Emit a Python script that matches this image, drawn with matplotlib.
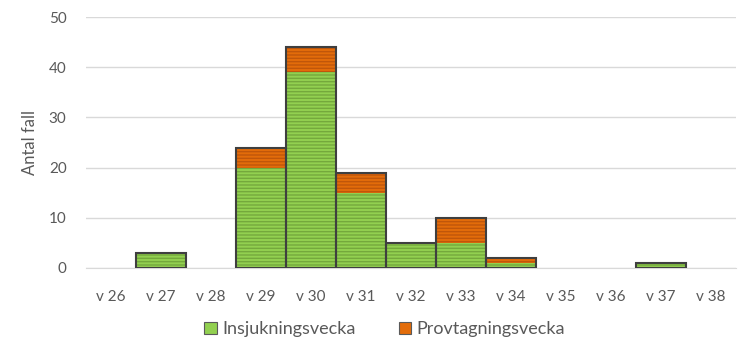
import numpy as np
import matplotlib.pyplot as plt
from matplotlib.patches import Patch

weeks = ['v 26', 'v 27', 'v 28', 'v 29', 'v 30', 'v 31', 'v 32',
         'v 33', 'v 34', 'v 35', 'v 36', 'v 37', 'v 38']
insjukning = [0, 3, 0, 20, 39, 15, 5, 5, 1, 0, 0, 1, 0]
provtagning = [0, 0, 0, 4, 5, 4, 0, 5, 1, 0, 0, 0, 0]

green = '#92D050'
green_h = '#74A83C'
orange = '#E36C0A'
orange_h = '#C0560A'
edge = '#3F3F3F'
txt = '#595959'

plt.rcParams['font.family'] = ['Lato', 'DejaVu Sans']
plt.rcParams['hatch.linewidth'] = 1.0

fig = plt.figure(figsize=(7.44, 3.59), dpi=100)
ax = fig.add_axes([0.1156, 0.2535, 0.873, 0.699])

x = np.arange(len(weeks))
ins = np.array(insjukning)
prov = np.array(provtagning)

ax.bar(x, ins, width=1.0, color=green, edgecolor=green_h, hatch='-----',
       linewidth=0, zorder=2)
ax.bar(x, prov, width=1.0, bottom=ins, color=orange, edgecolor=orange_h,
       hatch='-----', linewidth=0, zorder=2)
tot = ins + prov
ax.bar(x[tot > 0], tot[tot > 0], width=1.0, fill=False, edgecolor=edge,
       linewidth=1.5, zorder=3)

ax.set_xlim(-0.5, len(weeks) - 0.5)
ax.set_ylim(0, 50)
ax.set_yticks(range(0, 51, 10))
ax.set_xticks(x)
ax.set_xticklabels(weeks)
ax.yaxis.grid(True, color='#D9D9D9', linewidth=1, zorder=0)
ax.set_axisbelow(True)
for s in ['top', 'right', 'left']:
    ax.spines[s].set_visible(False)
ax.spines['bottom'].set_color('#D9D9D9')
ax.tick_params(axis='both', length=0, colors=txt, labelsize=11)
ax.tick_params(axis='x', pad=16)
ax.tick_params(axis='y', pad=14)
ax.set_ylabel('Antal fall', color=txt, fontsize=12, labelpad=8)

handles = [Patch(facecolor=green, edgecolor='#5a5a5a', linewidth=0.8),
           Patch(facecolor=orange, edgecolor='#5a5a5a', linewidth=0.8)]
fig.legend(handles, ['Insjukningsvecka', 'Provtagningsvecka'], loc='center',
           bbox_to_anchor=(0.517, 0.083), ncol=2, frameon=False, fontsize=13,
           handlelength=0.7, handleheight=0.7, handletextpad=0.3,
           columnspacing=2.4, labelcolor=txt)

fig.savefig('out.png', dpi=100)
